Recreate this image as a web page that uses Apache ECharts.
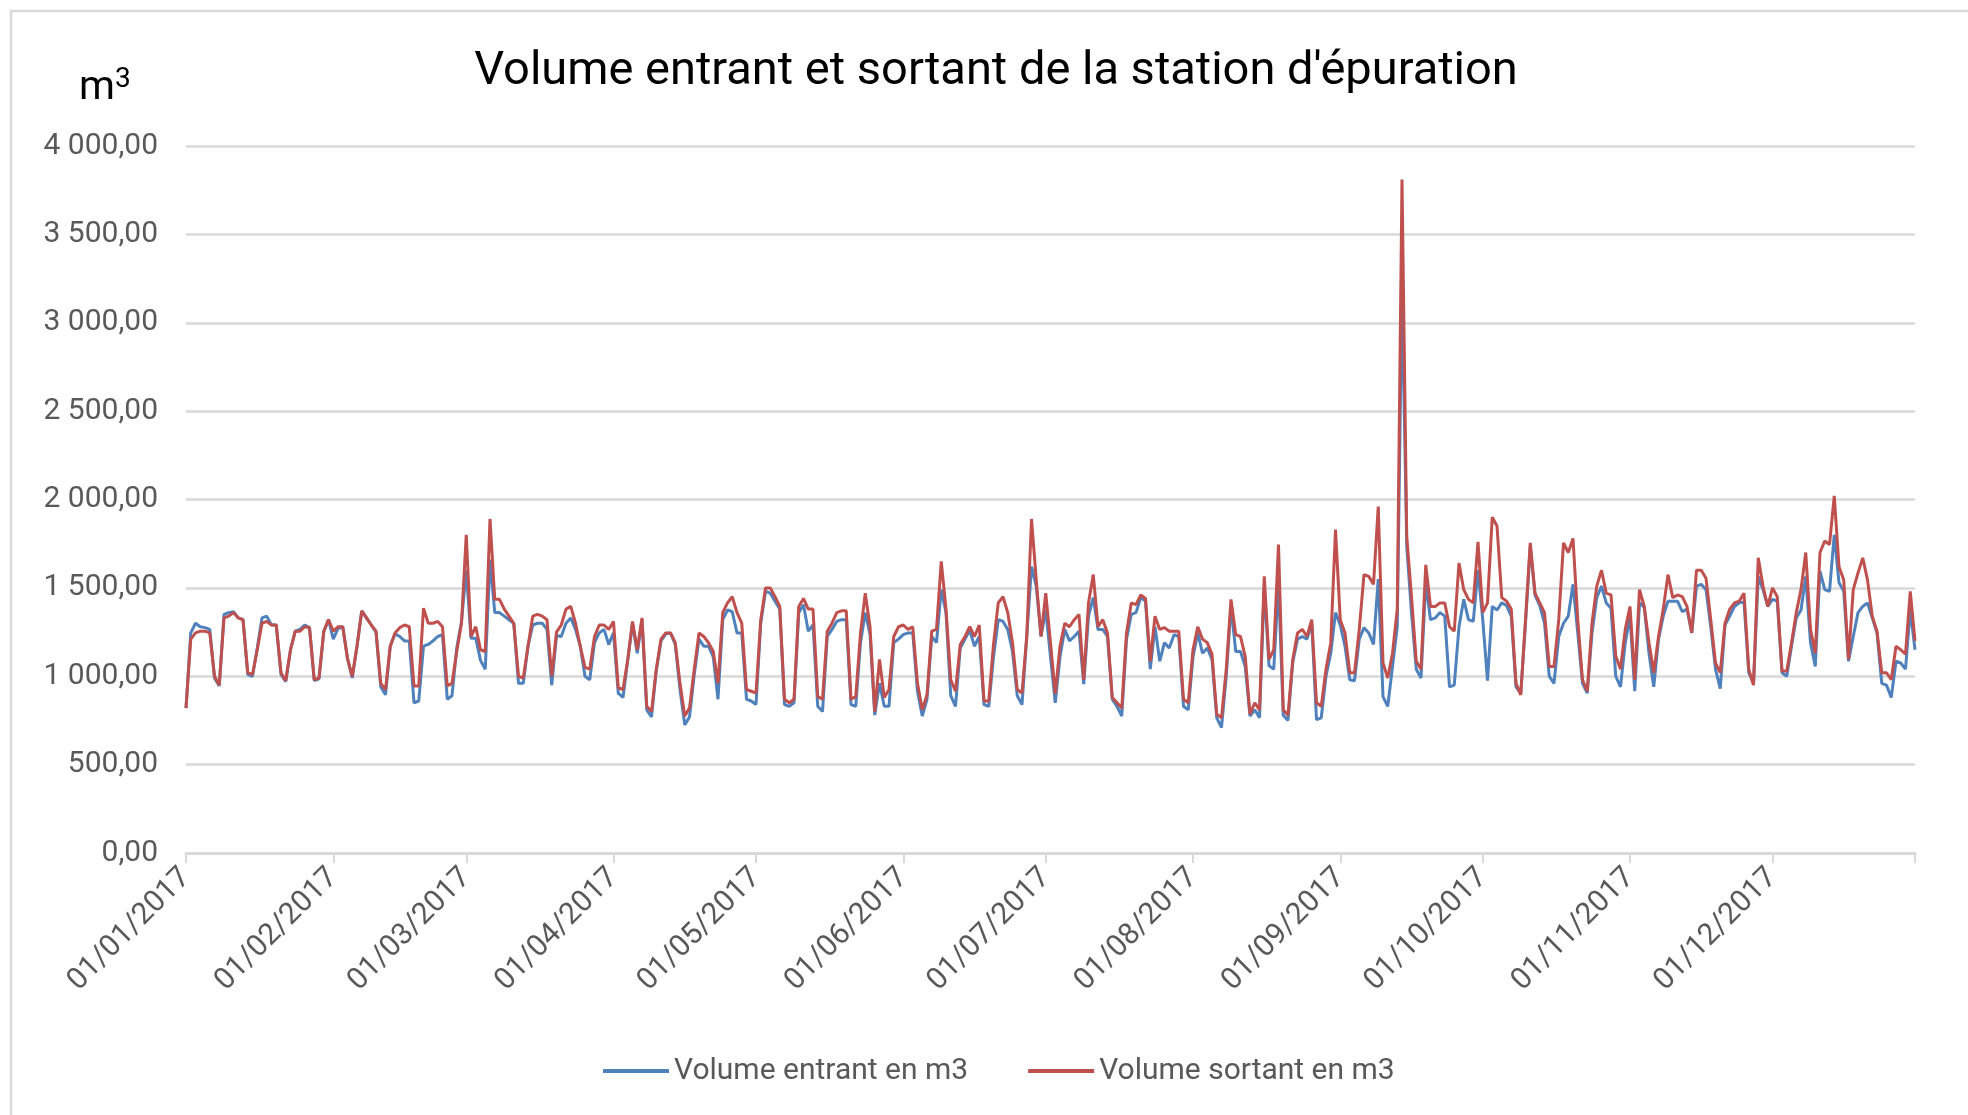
<!DOCTYPE html>
<html>
<head>
<meta charset="utf-8">
<script src="https://cdn.jsdelivr.net/npm/echarts@6/dist/echarts.min.js"></script>
<style>
  html, body { margin: 0; padding: 0; background: #fff; }
  #container { width: 1968px; height: 1115px; }
</style>
</head>
<body>
<div id="container"></div>
<script>
// Volume entrant (m3), une ligne par mois 2017
var entrant = [
    820,1245,1300,1280,1275,1265,990,945,1350,1360,1365,1330,1320,1010,1000,1160,1330,1340,1290,1290,1010,970,1150,1255,1265,1290,1275,975,985,1250,1320,
    1210,1270,1280,1100,990,1170,1370,1330,1290,1250,940,895,1170,1240,1225,1200,1200,850,860,1170,1180,1200,1225,1235,870,890,1160,1310,
    1600,1215,1215,1090,1040,1660,1360,1360,1340,1320,1300,960,960,1170,1290,1300,1300,1265,950,1230,1225,1300,1330,1265,1170,1000,980,1190,1245,1265,1180,
    1245,905,880,1090,1300,1130,1320,810,770,1030,1200,1240,1245,1180,925,725,770,1010,1210,1170,1170,1110,870,1320,1375,1365,1245,1245,870,860,
    840,1300,1480,1470,1425,1380,840,830,850,1360,1405,1255,1290,830,800,1225,1265,1310,1320,1320,840,830,1190,1360,1240,780,960,830,830,1190,1210,
    1235,1245,1245,915,775,870,1225,1190,1490,1360,890,830,1160,1210,1260,1170,1225,840,830,1110,1320,1310,1265,1140,890,840,1225,1620,1510,1225,
    1375,1110,850,1110,1265,1200,1225,1255,955,1340,1445,1265,1265,1225,870,830,775,1210,1350,1360,1445,1425,1040,1280,1085,1190,1160,1235,1225,830,810,
    1110,1245,1130,1160,1095,765,710,1000,1395,1140,1140,1055,775,810,765,1510,1060,1040,1530,780,750,1080,1210,1225,1210,1300,755,765,1000,1130,1360,
    1290,1170,980,975,1210,1275,1245,1180,1550,885,830,1055,1280,3200,1735,1360,1040,990,1530,1320,1330,1360,1340,940,950,1280,1435,1320,1310,1600,
    1320,975,1395,1375,1415,1400,1340,940,905,1300,1735,1460,1400,1300,1000,960,1225,1300,1340,1520,1245,960,905,1245,1445,1510,1415,1385,1000,940,1190,
    1340,915,1415,1390,1130,940,1210,1340,1425,1425,1425,1365,1380,1245,1510,1520,1490,1280,1040,930,1290,1340,1395,1415,1420,1020,960,1565,1490,1395,
    1435,1425,1020,1000,1170,1330,1375,1565,1190,1055,1595,1490,1480,1800,1530,1480,1085,1225,1360,1395,1415,1330,1245,960,950,880,1085,1075,1040,1375,1150
];
// Volume sortant (m3)
var sortant = [
    820,1210,1245,1255,1255,1245,1000,950,1330,1340,1360,1330,1320,1020,1010,1150,1300,1310,1290,1290,1020,975,1150,1255,1255,1280,1275,980,990,1255,1320,
    1255,1280,1280,1100,1000,1170,1370,1330,1290,1255,960,925,1170,1245,1275,1290,1280,945,945,1385,1300,1300,1310,1280,945,960,1140,1300,
    1800,1225,1280,1150,1140,1890,1435,1435,1380,1340,1300,1000,990,1170,1340,1350,1340,1320,1000,1250,1290,1380,1395,1300,1170,1050,1040,1225,1290,1290,1265,
    1310,935,925,1095,1310,1150,1330,830,800,1040,1210,1245,1245,1190,960,775,820,1040,1245,1225,1190,1140,960,1360,1415,1450,1360,1300,925,915,
    905,1320,1500,1500,1450,1395,870,850,870,1395,1440,1380,1380,885,870,1255,1300,1360,1370,1370,870,885,1245,1470,1280,800,1095,880,925,1225,1280,
    1290,1265,1280,960,810,895,1255,1265,1650,1380,980,915,1180,1225,1280,1225,1290,860,860,1180,1415,1450,1360,1190,925,905,1225,1890,1545,1225,
    1470,1190,900,1170,1300,1280,1320,1350,980,1415,1575,1280,1320,1245,880,850,820,1245,1415,1405,1460,1440,1085,1340,1265,1275,1255,1255,1255,870,850,
    1150,1280,1210,1190,1125,785,765,1040,1435,1235,1225,1110,785,850,810,1565,1095,1150,1745,810,780,1095,1245,1265,1225,1320,850,830,1040,1190,1830,
    1320,1245,1020,1020,1265,1575,1565,1520,1960,1075,990,1130,1380,3810,1790,1450,1085,1040,1630,1395,1395,1415,1415,1280,1255,1640,1490,1435,1415,1760,
    1360,1415,1900,1850,1445,1425,1380,960,895,1320,1755,1470,1415,1360,1055,1055,1320,1755,1700,1780,1320,980,915,1300,1510,1600,1470,1460,1115,1040,1265,
    1395,980,1490,1395,1190,1020,1225,1380,1575,1445,1460,1450,1395,1245,1600,1600,1555,1320,1075,1020,1300,1380,1415,1425,1470,1040,950,1670,1510,1395,
    1500,1450,1030,1030,1190,1360,1490,1700,1265,1130,1700,1765,1745,2020,1620,1545,1095,1490,1585,1670,1545,1340,1255,1020,1020,980,1170,1150,1125,1480,1200
];

// dates jj/mm/aaaa
var jours = [];
for (var i = 0; i < entrant.length; i++) {
    var d = new Date(2017, 0, 1 + i);
    var jj = ('0' + d.getDate()).slice(-2);
    var mm = ('0' + (d.getMonth() + 1)).slice(-2);
    jours.push(jj + '/' + mm + '/' + d.getFullYear());
}

function formatFr(v) {
    var s = v.toFixed(2).split('.');
    return s[0].replace(/\B(?=(\d{3})+(?!\d))/g, ' ') + ',' + s[1];
}

var myChart = echarts.init(document.getElementById('container'));
var gris = '#595959';
var grille = '#D9D9D9';
var police = 'Roboto, "Noto Sans", sans-serif';

var option = {
    animation: false,
    backgroundColor: '#fff',
    graphic: [
        // cadre du graphique (bords gauche et haut visibles)
        {
            type: 'rect',
            shape: { x: 11, y: 11, width: 2000, height: 1200 },
            style: { fill: 'none', stroke: grille, lineWidth: 2.5 }
        },
        {
            type: 'text',
            x: 996,
            y: 72,
            style: {
                text: "Volume entrant et sortant de la station d'épuration",
                align: 'center',
                verticalAlign: 'middle',
                fontSize: 47,
                fontFamily: police,
                fill: '#000'
            }
        },
        {
            type: 'text',
            x: 79,
            y: 66,
            style: {
                text: '{m|m}{s|3}',
                rich: {
                    m: { fontSize: 41, fontFamily: police, fill: '#000' },
                    s: { fontSize: 28, fontFamily: police, fill: '#000', verticalAlign: 'top', padding: [0, 0, 18, 0] }
                }
            }
        }
    ],
    legend: {
        left: 598,
        top: 1051,
        icon: 'rect',
        itemWidth: 66,
        itemHeight: 4,
        itemGap: 60,
        textStyle: { fontSize: 30, color: gris, fontFamily: police },
        data: ['Volume entrant en m3', 'Volume sortant en m3']
    },
    grid: { left: 186, right: 53, top: 146, bottom: 262 },
    xAxis: {
        type: 'category',
        boundaryGap: false,
        data: jours,
        axisLine: { lineStyle: { color: grille, width: 3 } },
        axisTick: {
            length: 10,
            lineStyle: { color: grille, width: 2 },
            interval: function (idx, val) {
                return val.slice(0, 2) === '01' || idx === jours.length - 1;
            }
        },
        axisLabel: {
            rotate: 45,
            margin: 20,
            fontSize: 30,
            color: gris,
            fontFamily: police,
            interval: function (idx, val) {
                return val.slice(0, 2) === '01';
            }
        },
        splitLine: { show: false }
    },
    yAxis: {
        type: 'value',
        min: 0,
        max: 4000,
        interval: 500,
        axisLine: { show: false },
        axisTick: { show: false },
        axisLabel: {
            margin: 28,
            fontSize: 30,
            color: gris,
            fontFamily: police,
            formatter: formatFr
        },
        splitLine: { lineStyle: { color: grille, width: 2.5 } }
    },
    series: [
        {
            name: 'Volume entrant en m3',
            type: 'line',
            data: entrant,
            showSymbol: false,
            color: '#4F81BD',
            lineStyle: { width: 3, color: '#4F81BD' }
        },
        {
            name: 'Volume sortant en m3',
            type: 'line',
            data: sortant,
            showSymbol: false,
            color: '#C0504D',
            lineStyle: { width: 3, color: '#C0504D' }
        }
    ]
};
myChart.setOption(option, true);

window.onresize = function () {
    myChart.resize();
};
</script>
</body>
</html>
